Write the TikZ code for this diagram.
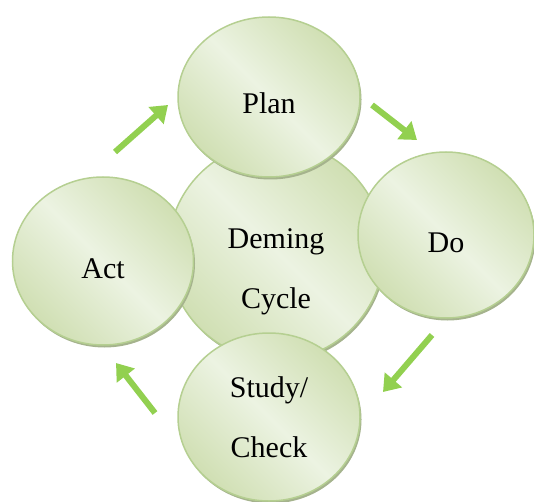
\documentclass[tikz,border=0pt]{standalone}
\usepackage{fontspec}
\setmainfont{Liberation Serif}
\usetikzlibrary{arrows.meta,shapes.geometric,shadows}

\definecolor{leafline}{HTML}{B5CF91}
\definecolor{leaflight}{HTML}{ECF3E2}
\definecolor{leafdark}{HTML}{D0DFB3}
\definecolor{leafshadow}{HTML}{A5B38D}
\definecolor{arrowgreen}{HTML}{92D050}

\begin{document}
\begin{tikzpicture}[x=1pt, y=1pt]
    \tikzset{
        bubble/.style = {ellipse, draw=leafline, line width=1.5pt, inner sep=0pt,
            top color=leafdark, bottom color=leafdark, middle color=leaflight,
            shading angle=-45,
            drop shadow={shadow xshift=1.5pt, shadow yshift=-2.5pt, fill=leafshadow, opacity=1},
            font=\fontsize{30}{60}\selectfont, align=center},
        lowered/.style = {text height=34pt, text depth=0pt},
        cyclearrow/.style = {draw=arrowgreen, line width=6pt,
            -{Triangle[length=16pt, width=22pt]}}
    }
    \useasboundingbox (0,0) rectangle (534,501);

    % Vertices
    \node[bubble, minimum width=216pt, minimum height=218pt,
        label={[name=deminglabel, yshift=-21pt, font=\fontsize{30}{60}\selectfont, align=center]center:Deming\\Cycle}]
        (deming) at (276,250) {};
    \node[bubble, lowered, minimum width=182pt, minimum height=160pt] (plan)  at (269,404) {Plan};
    \node[bubble, lowered, minimum width=176pt, minimum height=166pt] (do)    at (446,266) {Do};
    \node[bubble, lowered, minimum width=181pt, minimum height=168pt] (act)   at (103,240) {Act};
    \node[bubble, minimum width=182pt, minimum height=168pt] (check) at (269,84)  {Study/\\Check};

    % Edges
    \coordinate (actout)   at (115,349); \coordinate (planin)  at (168,396);
    \coordinate (planout)  at (372,396); \coordinate (doin)    at (417,361);
    \coordinate (doout)    at (432,166); \coordinate (checkin) at (383,109);
    \coordinate (checkout) at (155,88);  \coordinate (actin)   at (116,138);

    \foreach \s/\t in {actout/planin, planout/doin, doout/checkin, checkout/actin}
        \draw[cyclearrow] (\s) -- (\t);
\end{tikzpicture}
\end{document}
